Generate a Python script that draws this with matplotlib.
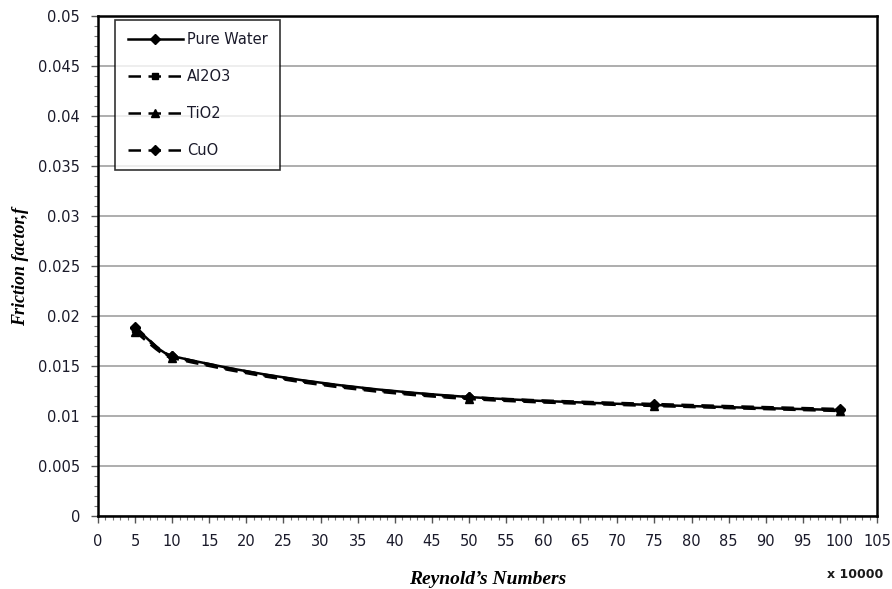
import numpy as np
import matplotlib
matplotlib.use("Agg")
import matplotlib.pyplot as plt
from matplotlib.path import Path
from matplotlib.patches import PathPatch
from matplotlib.lines import Line2D
from matplotlib.ticker import MultipleLocator, FuncFormatter

reynolds = [5, 10, 50, 75, 100]
pure_water = [0.0188, 0.0160, 0.0119, 0.0111, 0.0106]
al2o3 = [0.0187, 0.0159, 0.0118, 0.0111, 0.0106]
tio2 = [0.0184, 0.0158, 0.0117, 0.0110, 0.0105]
cuo = [0.0189, 0.0160, 0.0119, 0.0112, 0.0107]
series_names = ["Pure Water", "Al2O3", "TiO2", "CuO"]

fig = plt.figure(figsize=(8.92, 5.89), dpi=100)
ax = fig.add_axes([98/892, 1-516/589, (877-98)/892, 500/589])

def smooth_path(xs, ys):
    # cubic Hermite (monotone tangents) expressed as Bezier path for rendering
    n = len(xs)
    sec = [(ys[i+1]-ys[i])/(xs[i+1]-xs[i]) for i in range(n-1)]
    m = [sec[0]]
    for i in range(1, n-1):
        a, b = sec[i-1], sec[i]
        m.append(0.0 if a*b <= 0 else 2/(1/a+1/b))
    m.append(sec[-1])
    verts = [(xs[0], ys[0])]
    codes = [Path.MOVETO]
    for i in range(n-1):
        h = xs[i+1]-xs[i]
        verts += [(xs[i]+h/3, ys[i]+m[i]*h/3),
                  (xs[i+1]-h/3, ys[i+1]-m[i+1]*h/3),
                  (xs[i+1], ys[i+1])]
        codes += [Path.CURVE4]*3
    return Path(verts, codes)

styles = [
    dict(ls="-", marker="D", ms=5),
    dict(ls=(0, (5, 3)), marker="s", ms=5),
    dict(ls=(0, (5, 3)), marker="^", ms=6),
    dict(ls=(0, (5, 3)), marker="D", ms=5),
]
data = [pure_water, al2o3, tio2, cuo]
handles = []
for name, ys, st in zip(series_names, data, styles):
    p = PathPatch(smooth_path(reynolds, ys), facecolor="none", edgecolor="black",
                  lw=1.8, linestyle=st["ls"], zorder=3)
    ax.add_patch(p)
    ax.plot(reynolds, ys, ls="none", marker=st["marker"], ms=st["ms"], color="black", zorder=4)
    handles.append(Line2D([], [], color="black", lw=1.8, ls=st["ls"], marker=st["marker"], ms=st["ms"]))

ax.set_xlim(0, 105)
ax.set_ylim(0, 0.05)
ax.xaxis.set_major_locator(MultipleLocator(5))
ax.xaxis.set_minor_locator(MultipleLocator(1))
ax.yaxis.set_major_locator(MultipleLocator(0.005))
ax.yaxis.set_minor_locator(MultipleLocator(0.001))
ax.yaxis.set_major_formatter(FuncFormatter(lambda v, p: "0" if abs(v) < 1e-12 else ("%.3f" % v).rstrip("0")))
ax.grid(axis="y", which="major", color="#a0a0a0", lw=1.2)
ax.set_axisbelow(True)
for s in ax.spines.values():
    s.set_linewidth(1.8)
    s.set_color("black")
ax.tick_params(which="major", direction="out", length=5, width=1, color="#555555",
               labelsize=10.5, labelcolor="#1a1a2a", pad=8)
ax.tick_params(which="minor", direction="out", length=3, width=0.8, color="#777777")

ax.set_xlabel("Reynold\u2019s Numbers", family="Liberation Serif", style="italic",
              weight="bold", fontsize=14, labelpad=16)
ax.set_ylabel("Friction factor,f", family="Liberation Serif", style="italic",
              weight="bold", fontsize=13, labelpad=6)
fig.text(855/892, 1-575/589, "x 10000", ha="center", va="center", fontsize=9,
         weight="bold", color="#1a1a1a")

leg = ax.legend(handles, series_names, loc="upper left", bbox_to_anchor=(0.022, 0.992),
                frameon=True, fancybox=False, edgecolor="black", fontsize=10.5,
                handlelength=3.8, labelspacing=1.5, borderpad=0.85, borderaxespad=0,
                handletextpad=0.3)
leg.get_frame().set_linewidth(1.2)
for t in leg.get_texts():
    t.set_color("#1a1a2a")

fig.savefig("out.png", dpi=100)
